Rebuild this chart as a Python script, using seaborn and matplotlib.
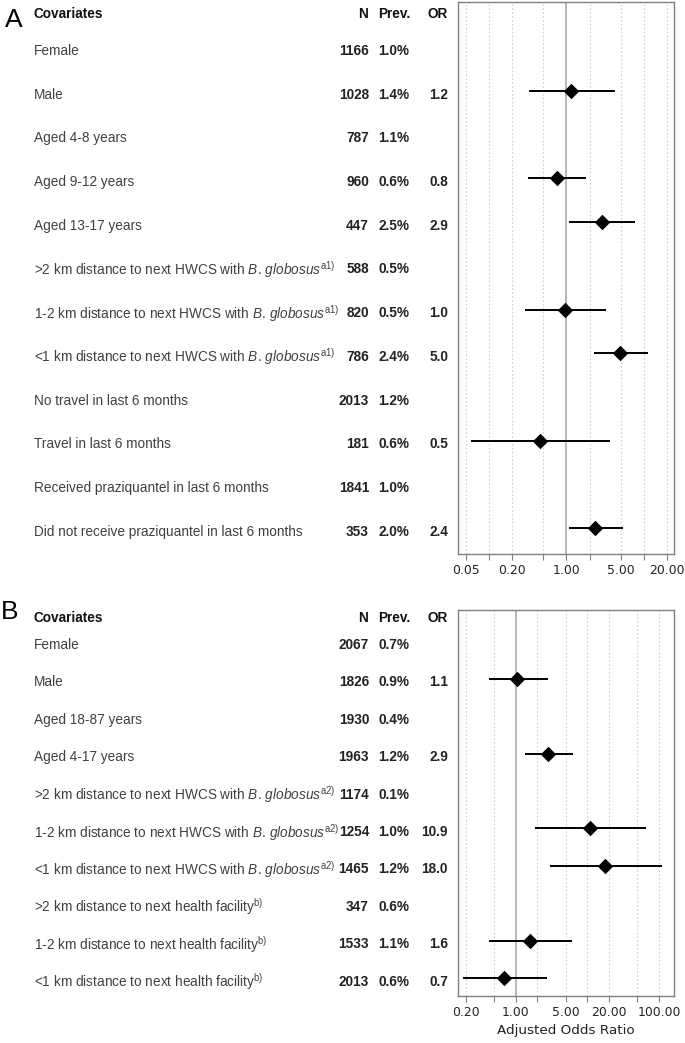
import matplotlib
matplotlib.use("Agg")
import matplotlib.pyplot as plt
import matplotlib.transforms as mtransforms
from matplotlib.ticker import NullLocator
import numpy as np
import pandas as pd
import seaborn as sns

nan = np.nan

# ---- panel A (children) ----
labels_a = ["Female", "Male", "Aged 4-8 years", "Aged 9-12 years", "Aged 13-17 years",
            r">2 km distance to next HWCS with $\mathit{B.\,globosus}^{\mathrm{a1)}}$",
            r"1-2 km distance to next HWCS with $\mathit{B.\,globosus}^{\mathrm{a1)}}$",
            r"<1 km distance to next HWCS with $\mathit{B.\,globosus}^{\mathrm{a1)}}$",
            "No travel in last 6 months", "Travel in last 6 months",
            "Received praziquantel in last 6 months",
            "Did not receive praziquantel in last 6 months"]
n_a = [1166, 1028, 787, 960, 447, 588, 820, 786, 2013, 181, 1841, 353]
prev_a = ["1.0%", "1.4%", "1.1%", "0.6%", "2.5%", "0.5%", "0.5%", "2.4%", "1.2%", "0.6%", "1.0%", "2.0%"]
or_txt_a = ["", "1.2", "", "0.8", "2.9", "", "1.0", "5.0", "", "0.5", "", "2.4"]
or_a = [nan, 1.15, nan, 0.76, 2.85, nan, 0.97, 4.95, nan, 0.46, nan, 2.35]
lo_a = [nan, 0.33, nan, 0.32, 1.07, nan, 0.29, 2.24, nan, 0.058, nan, 1.09]
hi_a = [nan, 4.2, nan, 1.8, 7.6, nan, 3.2, 11.2, nan, 3.6, nan, 5.3]
ticks_a = [0.05, 0.1, 0.2, 0.5, 1, 2, 5, 10, 20]
ticklabels_a = ["0.05", "", "0.20", "", "1.00", "", "5.00", "", "20.00"]

# ---- panel B (adults and children) ----
labels_b = ["Female", "Male", "Aged 18-87 years", "Aged 4-17 years",
            r">2 km distance to next HWCS with $\mathit{B.\,globosus}^{\mathrm{a2)}}$",
            r"1-2 km distance to next HWCS with $\mathit{B.\,globosus}^{\mathrm{a2)}}$",
            r"<1 km distance to next HWCS with $\mathit{B.\,globosus}^{\mathrm{a2)}}$",
            r">2 km distance to next health facility$^{\mathrm{b)}}$",
            r"1-2 km distance to next health facility$^{\mathrm{b)}}$",
            r"<1 km distance to next health facility$^{\mathrm{b)}}$"]
n_b = [2067, 1826, 1930, 1963, 1174, 1254, 1465, 347, 1533, 2013]
prev_b = ["0.7%", "0.9%", "0.4%", "1.2%", "0.1%", "1.0%", "1.2%", "0.6%", "1.1%", "0.6%"]
or_txt_b = ["", "1.1", "", "2.9", "", "10.9", "18.0", "", "1.6", "0.7"]
or_b = [nan, 1.05, nan, 2.8, nan, 10.9, 17.6, nan, 1.56, 0.69]
lo_b = [nan, 0.42, nan, 1.33, nan, 1.85, 2.97, nan, 0.42, 0.18]
hi_b = [nan, 2.82, nan, 6.2, nan, 65.0, 110.0, nan, 6.1, 2.7]
ticks_b = [0.2, 0.5, 1, 2, 5, 10, 20, 50, 100]
ticklabels_b = ["0.20", "", "1.00", "", "5.00", "", "20.00", "", "100.00"]

sns.set_theme(style="white")
plt.rcParams["font.family"] = ["Liberation Sans", "DejaVu Sans"]
plt.rcParams["mathtext.fontset"] = "custom"
plt.rcParams["mathtext.rm"] = "Liberation Sans"
plt.rcParams["mathtext.it"] = "Liberation Sans:italic"
plt.rcParams["mathtext.bf"] = "Liberation Sans:bold"

W, H = 685, 1043
FS = 9.8
fig = plt.figure(figsize=(W / 100, H / 100), dpi=100)


def panel(rect, labels, n, prev, or_txt, orv, lo, hi, ticks, ticklabels,
          xlim, ylim, row_px, header_y, letter, letter_px):
    ax = fig.add_axes(rect)
    df = pd.DataFrame({"row": np.arange(len(labels)), "OR": orv, "lo": lo, "hi": hi})
    ax.set_xscale("log")
    for t in ticks:
        if t != 1:
            ax.axvline(t, color="#cfcfcf", lw=0.8, ls=(0, (1.5, 2)), zorder=0)
    ax.axvline(1, color="#b8b8b8", lw=1.4, zorder=1)
    d = df.dropna()
    ax.hlines(d["row"], d["lo"], d["hi"], color="black", lw=1.4, zorder=2)
    sns.scatterplot(data=d, x="OR", y="row", marker="D", s=62, color="black",
                    edgecolor="black", linewidth=0, ax=ax, zorder=3)
    ax.set_xlim(*xlim)
    ax.set_ylim(*ylim)
    ax.set_xticks(ticks)
    ax.set_xticklabels(ticklabels, family="DejaVu Sans")
    ax.xaxis.set_minor_locator(NullLocator())
    ax.set_yticks([])
    ax.set_ylabel("")
    ax.set_xlabel("")
    for s in ax.spines.values():
        s.set_color("#808080")
        s.set_linewidth(1.0)
    ax.tick_params(axis="x", bottom=True, length=4, width=0.8, color="#808080",
                   labelsize=8.9, labelcolor="#222222", pad=3)

    tr = mtransforms.blended_transform_factory(fig.transFigure, ax.transData)
    dy = 3.6 / row_px
    fx = lambda px: px / W
    for i in range(len(labels)):
        y = i + dy
        ax.text(fx(34), y, labels[i], transform=tr, ha="left", va="center",
                fontsize=FS, color="#404040", clip_on=False)
        ax.text(fx(369), y, str(n[i]), transform=tr, ha="right", va="center",
                fontsize=FS, fontweight="bold", color="#222222", clip_on=False)
        ax.text(fx(378.5), y, prev[i], transform=tr, ha="left", va="center",
                fontsize=FS, fontweight="bold", color="#222222", clip_on=False)
        ax.text(fx(448), y, or_txt[i], transform=tr, ha="right", va="center",
                fontsize=FS, fontweight="bold", color="#222222", clip_on=False)
    hy = header_y + 1.3 / row_px
    ax.text(fx(34), hy, "Covariates", transform=tr, ha="left", va="center",
            fontsize=FS, fontweight="bold", color="#111111", clip_on=False)
    ax.text(fx(368), hy, "N", transform=tr, ha="right", va="center",
            fontsize=FS, fontweight="bold", color="#111111", clip_on=False)
    ax.text(fx(378.5), hy, "Prev.", transform=tr, ha="left", va="center",
            fontsize=FS, fontweight="bold", color="#111111", clip_on=False)
    ax.text(fx(448), hy, "OR", transform=tr, ha="right", va="center",
            fontsize=FS, fontweight="bold", color="#111111", clip_on=False)
    fig.text(fx(letter_px[0]), 1 - letter_px[1] / H, letter, ha="center", va="center",
             fontsize=19, color="black")
    return ax


# panel geometry (pixels)
ax_a = panel([458.3 / W, 1 - 554 / H, 216 / W, 552 / H],
             labels_a, n_a, prev_a, or_txt_a, or_a, lo_a, hi_a, ticks_a, ticklabels_a,
             (0.0402, 24.6), (11.595, -1.037), 43.7, -0.785, "A", (14, 20))
ax_b = panel([458.3 / W, 1 - 996 / H, 216 / W, 386.3 / H],
             labels_b, n_b, prev_b, or_txt_b, or_b, lo_b, hi_b, ticks_b, ticklabels_b,
             (0.157, 163.6), (9.479, -0.85), 37.4, -0.655, "B", (10, 612))
ax_b.set_xlabel("Adjusted Odds Ratio", family="DejaVu Sans", fontsize=9.7,
                color="#222222", labelpad=4)

fig.savefig("out.png", dpi=100)
